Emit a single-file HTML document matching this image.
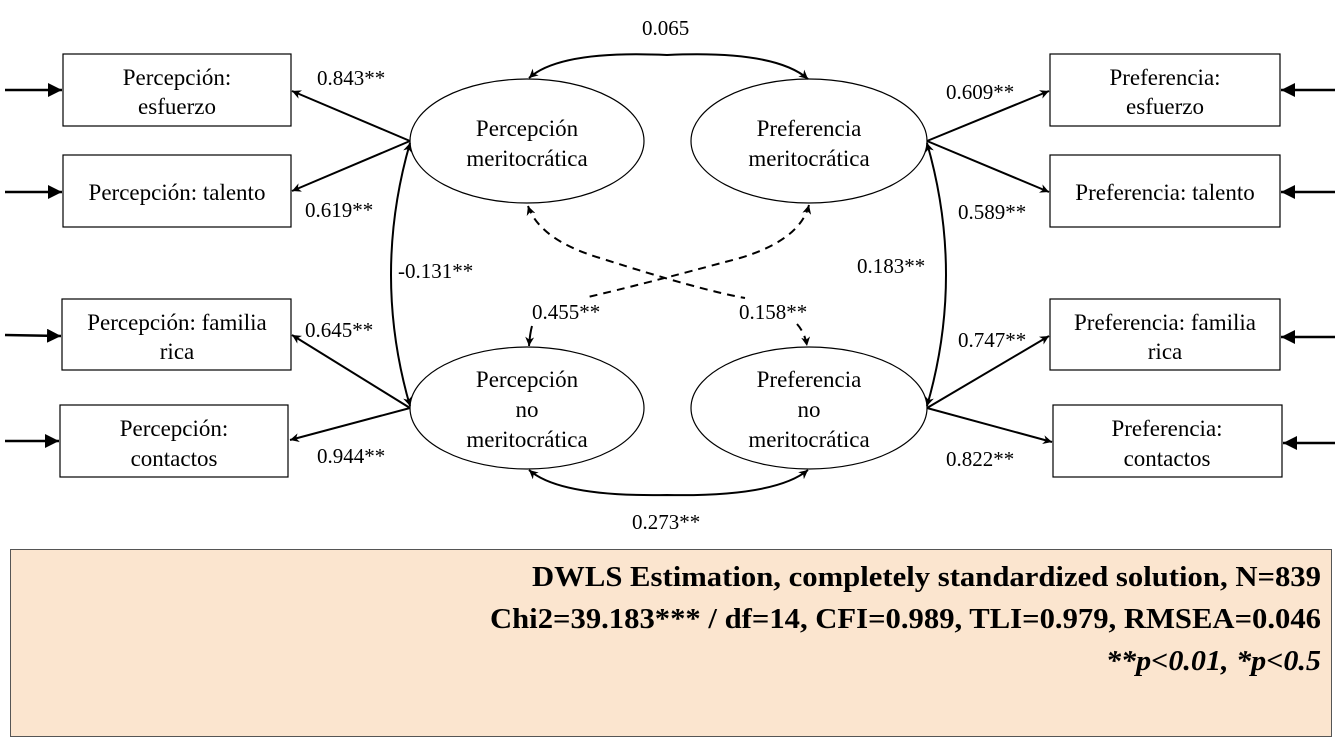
<!DOCTYPE html>
<html><head><meta charset="utf-8"><style>
html,body{margin:0;padding:0;background:#fff;}
svg{display:block;}
text{font-family:"Liberation Serif",serif;fill:#000;}
</style></head><body>
<svg width="1336" height="755" viewBox="0 0 1336 755" xmlns="http://www.w3.org/2000/svg">
<defs>
<marker id="a" viewBox="0 0 10 10" refX="10" refY="5" markerWidth="9" markerHeight="9" markerUnits="userSpaceOnUse" orient="auto-start-reverse"><path d="M0,0 L10,5 L0,10 L3,5 z" fill="#000"/></marker>
<marker id="b" viewBox="0 0 10 10" refX="10" refY="5" markerWidth="14" markerHeight="14" markerUnits="userSpaceOnUse" orient="auto"><path d="M0,0 L10,5 L0,10 z" fill="#000"/></marker>
</defs>
<g fill="#fff" stroke="#000" stroke-width="1.2">
<rect x="63" y="54" width="228" height="72"/>
<rect x="63" y="155" width="228" height="72"/>
<rect x="62" y="299" width="229" height="71"/>
<rect x="60" y="405" width="228" height="72"/>
<rect x="1050" y="54" width="230" height="72"/>
<rect x="1050" y="155" width="230" height="72"/>
<rect x="1050" y="299" width="230" height="71"/>
<rect x="1053" y="405" width="229" height="72"/>
<ellipse cx="527" cy="141" rx="117" ry="62"/>
<ellipse cx="809" cy="141" rx="118" ry="62"/>
<ellipse cx="527" cy="408" rx="117" ry="61"/>
<ellipse cx="809" cy="408" rx="118" ry="61"/>
</g>
<g stroke="#000" stroke-width="2.5" fill="none">
<line x1="5" y1="90" x2="62" y2="90" marker-end="url(#b)"/>
<line x1="5" y1="192" x2="62" y2="192" marker-end="url(#b)"/>
<line x1="5" y1="335" x2="61" y2="336" marker-end="url(#b)"/>
<line x1="5" y1="441" x2="59" y2="441" marker-end="url(#b)"/>
<line x1="1335" y1="90" x2="1281" y2="90" marker-end="url(#b)"/>
<line x1="1335" y1="192" x2="1281" y2="192" marker-end="url(#b)"/>
<line x1="1335" y1="337" x2="1281" y2="337" marker-end="url(#b)"/>
<line x1="1335" y1="443" x2="1283" y2="443" marker-end="url(#b)"/>
</g>
<g stroke="#000" stroke-width="2" fill="none">
<line x1="410" y1="141" x2="292" y2="91" marker-end="url(#a)"/>
<line x1="410" y1="141" x2="292" y2="191" marker-end="url(#a)"/>
<line x1="410" y1="408" x2="292" y2="335" marker-end="url(#a)"/>
<line x1="410" y1="408" x2="290" y2="440" marker-end="url(#a)"/>
<line x1="927" y1="141" x2="1049" y2="91" marker-end="url(#a)"/>
<line x1="927" y1="141" x2="1049" y2="192" marker-end="url(#a)"/>
<line x1="927" y1="408" x2="1049" y2="336" marker-end="url(#a)"/>
<line x1="927" y1="408" x2="1052" y2="442" marker-end="url(#a)"/>
<path d="M410,143 Q372,275 410,406" marker-start="url(#a)" marker-end="url(#a)"/>
<path d="M927,143 Q965,275 927,406" marker-start="url(#a)" marker-end="url(#a)"/>
<path d="M529,78 Q560,50 667,55 Q775,50 808,79" marker-start="url(#a)" marker-end="url(#a)"/>
<path d="M529,470 Q560,497 667,495 Q775,497 808,470" marker-start="url(#a)" marker-end="url(#a)"/>
<path d="M528,206 Q540,240 600,258 Q700,290 745,298" stroke-dasharray="8,6" marker-start="url(#a)"/>
<path d="M797,324 Q805,333 807,346" stroke-dasharray="8,6" marker-end="url(#a)"/>
<path d="M809,205 Q800,240 740,258 Q640,285 588,297" stroke-dasharray="8,6" marker-start="url(#a)"/>
<path d="M532,326 Q530,333 529,346" marker-end="url(#a)"/>
</g>
<g font-size="23" text-anchor="middle">
<text x="177" y="85">Percepción:</text><text x="177" y="114">esfuerzo</text>
<text x="177" y="200">Percepción: talento</text>
<text x="177" y="330">Percepción: familia</text><text x="177" y="359">rica</text>
<text x="174" y="436">Percepción:</text><text x="174" y="466">contactos</text>
<text x="1165" y="85">Preferencia:</text><text x="1165" y="114">esfuerzo</text>
<text x="1165" y="200">Preferencia: talento</text>
<text x="1165" y="330">Preferencia: familia</text><text x="1165" y="359">rica</text>
<text x="1167" y="436">Preferencia:</text><text x="1167" y="466">contactos</text>
<text x="527" y="136">Percepción</text><text x="527" y="166">meritocrática</text>
<text x="809" y="136">Preferencia</text><text x="809" y="166">meritocrática</text>
<text x="527" y="387">Percepción</text><text x="527" y="417">no</text><text x="527" y="447">meritocrática</text>
<text x="809" y="387">Preferencia</text><text x="809" y="417">no</text><text x="809" y="447">meritocrática</text>
</g>
<g font-size="21">
<text x="642" y="35">0.065</text>
<text x="317" y="85">0.843**</text>
<text x="305" y="217">0.619**</text>
<text x="398" y="278">-0.131**</text>
<text x="305" y="337">0.645**</text>
<text x="317" y="463">0.944**</text>
<text x="532" y="319">0.455**</text>
<text x="739" y="319">0.158**</text>
<text x="857" y="273">0.183**</text>
<text x="946" y="99">0.609**</text>
<text x="958" y="219">0.589**</text>
<text x="958" y="347">0.747**</text>
<text x="946" y="466">0.822**</text>
<text x="632" y="529">0.273**</text>
</g>
<rect x="10.5" y="549.5" width="1321" height="187" fill="#fbe5cf" stroke="#555" stroke-width="1"/>
<g font-size="29" font-weight="bold" text-anchor="end">
<text x="1321" y="586" textLength="789" lengthAdjust="spacingAndGlyphs">DWLS Estimation, completely standardized solution, N=839</text>
<text x="1321" y="628" textLength="831" lengthAdjust="spacingAndGlyphs">Chi2=39.183*** / df=14, CFI=0.989, TLI=0.979, RMSEA=0.046</text>
<text x="1321" y="670" textLength="215" lengthAdjust="spacingAndGlyphs" font-style="italic">**p&lt;0.01, *p&lt;0.5</text>
</g>
</svg>
</body></html>
